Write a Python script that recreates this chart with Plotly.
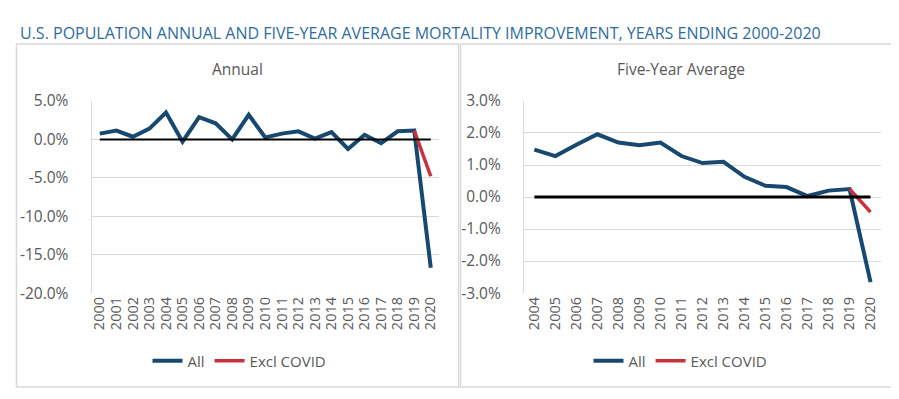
import plotly.graph_objects as go

# ---- data ----
annual_years = [str(y) for y in range(2000, 2021)]
annual_all = [0.75, 1.15, 0.35, 1.4, 3.5, -0.3, 2.9, 2.1, 0.0, 3.2, 0.25,
              0.75, 1.05, 0.1, 0.95, -1.25, 0.6, -0.5, 1.05, 1.15, -16.7]
annual_excl = [None] * 19 + [1.15, -4.8]
annual_zero = [0.0] * 21

avg_years = [str(y) for y in range(2004, 2021)]
avg_all = [1.48, 1.28, 1.63, 1.96, 1.70, 1.62, 1.70, 1.28, 1.06, 1.10,
           0.63, 0.35, 0.31, 0.03, 0.20, 0.25, -2.66]
avg_excl = [None] * 15 + [0.25, -0.47]
avg_zero = [0.0] * 17

annual_ticks = [5, 0, -5, -10, -15, -20]
annual_tick_text = ["5.0%", "0.0%", "-5.0%", "-10.0%", "-15.0%", "-20.0%"]
avg_ticks = [3, 2, 1, 0, -1, -2, -3]
avg_tick_text = ["3.0%", "2.0%", "1.0%", "0.0%", "-1.0%", "-2.0%", "-3.0%"]

title_text = "U.S. POPULATION ANNUAL AND FIVE-YEAR AVERAGE MORTALITY IMPROVEMENT, YEARS ENDING 2000-2020"

# ---- styles ----
W, H = 899, 399
BLUE = "#17486F"
RED = "#C8323C"
GRID = "#D9D9D9"
TXT = "#595959"
FONT = "Open Sans"

def px(v):
    return v / W

def py(v):
    return 1 - v / H

fig = go.Figure()

# Annual panel
fig.add_trace(go.Scatter(x=annual_years, y=annual_all, mode="lines", name="All",
                         line=dict(color=BLUE, width=4), xaxis="x", yaxis="y",
                         legend="legend"))
fig.add_trace(go.Scatter(x=annual_years, y=annual_excl, mode="lines", name="Excl COVID",
                         line=dict(color=RED, width=3.5), xaxis="x", yaxis="y",
                         legend="legend"))
fig.add_trace(go.Scatter(x=annual_years, y=annual_zero, mode="lines", showlegend=False,
                         line=dict(color="black", width=2), xaxis="x", yaxis="y",
                         hoverinfo="skip"))

# Five-year panel
fig.add_trace(go.Scatter(x=avg_years, y=avg_all, mode="lines", name="All",
                         line=dict(color=BLUE, width=4), xaxis="x2", yaxis="y2",
                         legend="legend2"))
fig.add_trace(go.Scatter(x=avg_years, y=avg_excl, mode="lines", name="Excl COVID",
                         line=dict(color=RED, width=3.5), xaxis="x2", yaxis="y2",
                         legend="legend2"))
fig.add_trace(go.Scatter(x=avg_years, y=avg_zero, mode="lines", showlegend=False,
                         line=dict(color="black", width=3), xaxis="x2", yaxis="y2",
                         hoverinfo="skip"))

xcommon = dict(type="category", tickangle=-90, showgrid=False, zeroline=False,
               showline=False, ticks="", tickmode="array",
               tickfont=dict(family=FONT, size=14.5, color=TXT))
ycommon = dict(showgrid=True, gridcolor=GRID, gridwidth=1, zeroline=False,
               showline=True, linecolor=GRID, linewidth=1, ticks="", tickmode="array",
               tickfont=dict(family=FONT, size=15.5, color=TXT), ticklabelstandoff=19)

ydom = [py(289), py(85.7)]

fig.update_layout(
    width=W, height=H,
    margin=dict(l=0, r=0, t=0, b=0),
    paper_bgcolor="white", plot_bgcolor="white",
    font=dict(family=FONT, color=TXT),
    xaxis=dict(domain=[px(81.7), px(430)], range=[-0.5, 20.5], anchor="y",
               tickvals=annual_years, ticktext=annual_years, **xcommon),
    yaxis=dict(domain=ydom, range=[-20, 5], tickvals=annual_ticks,
               ticktext=annual_tick_text, anchor="x", **ycommon),
    xaxis2=dict(domain=[px(515), px(873)], range=[-0.5, 16.5], anchor="y2",
                tickvals=avg_years, ticktext=avg_years, **xcommon),
    yaxis2=dict(domain=ydom, range=[-3, 3], tickvals=avg_ticks,
                ticktext=avg_tick_text, anchor="x2", **ycommon),
    legend=dict(orientation="h", x=px(230), y=py(361), xanchor="center", yanchor="middle",
                font=dict(family=FONT, size=15, color=TXT), bgcolor="rgba(0,0,0,0)",
                itemwidth=30),
    legend2=dict(orientation="h", x=px(672), y=py(361), xanchor="center", yanchor="middle",
                 font=dict(family=FONT, size=15, color=TXT), bgcolor="rgba(0,0,0,0)",
                 itemwidth=30),
    showlegend=True,
    annotations=[
        dict(text=title_text, x=px(8), y=py(14), xref="paper", yref="paper",
             xanchor="left", yanchor="middle", showarrow=False,
             font=dict(family=FONT, size=16, color="#2E6C9E")),
        dict(text="Annual", x=px(228), y=py(52), xref="paper", yref="paper",
             xanchor="center", yanchor="middle", showarrow=False,
             font=dict(family=FONT, size=15.5, color=TXT)),
        dict(text="Five-Year Average", x=px(672), y=py(52), xref="paper", yref="paper",
             xanchor="center", yanchor="middle", showarrow=False,
             font=dict(family=FONT, size=15.5, color=TXT)),
    ],
    shapes=[
        dict(type="rect", xref="paper", yref="paper", x0=px(6.5), x1=px(449.5),
             y0=py(388.5), y1=py(25.5), line=dict(color=GRID, width=1.5)),
        dict(type="rect", xref="paper", yref="paper", x0=px(451.5), x1=px(893.5),
             y0=py(388.5), y1=py(25.5), line=dict(color=GRID, width=1.5)),
    ],
)

fig.write_html("out.html")
